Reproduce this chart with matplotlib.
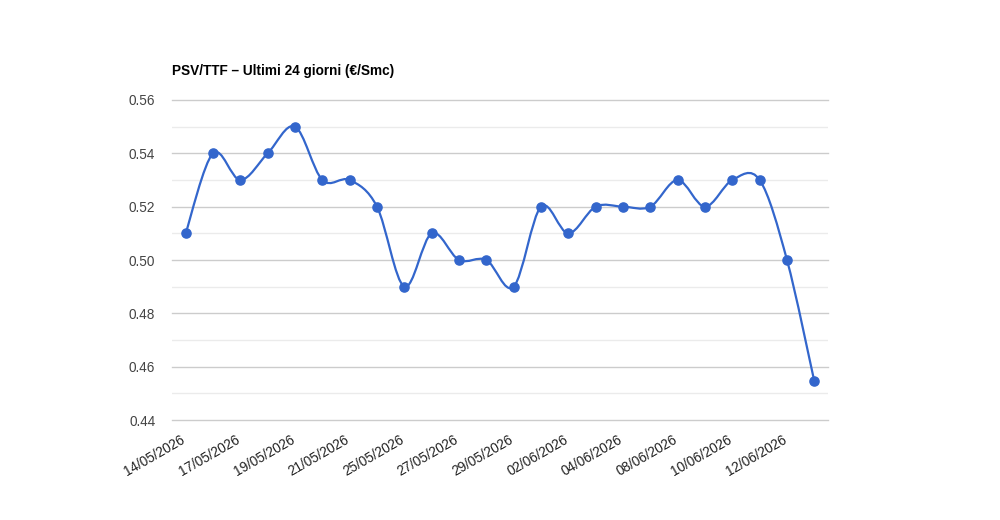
import matplotlib
matplotlib.use("Agg")
import matplotlib.pyplot as plt
from matplotlib.path import Path
from matplotlib.patches import PathPatch
from matplotlib.transforms import ScaledTranslation
import numpy as np

dates = ["14/05/2026", "15/05/2026", "17/05/2026", "18/05/2026", "19/05/2026", "20/05/2026",
         "21/05/2026", "22/05/2026", "25/05/2026", "26/05/2026", "27/05/2026", "28/05/2026",
         "29/05/2026", "01/06/2026", "02/06/2026", "03/06/2026", "04/06/2026", "05/06/2026",
         "08/06/2026", "09/06/2026", "10/06/2026", "11/06/2026", "12/06/2026", "13/06/2026"]
values = [0.51, 0.54, 0.53, 0.54, 0.55, 0.53, 0.53, 0.52, 0.49, 0.51, 0.50, 0.50,
          0.49, 0.52, 0.51, 0.52, 0.52, 0.52, 0.53, 0.52, 0.53, 0.53, 0.50, 0.4545]
title = "PSV/TTF – Ultimi 24 giorni (€/Smc)"
y_major = [0.44, 0.46, 0.48, 0.50, 0.52, 0.54, 0.56]

plt.rcParams['font.family'] = ['Liberation Sans', 'DejaVu Sans']
color = "#3366cc"

fig = plt.figure(figsize=(10, 5.2), dpi=100)
ax = fig.add_axes([0.172, 0.1923, 0.656, 0.6154])

x = np.arange(len(values))
y = np.array(values)

# smooth curve (Catmull-Rom -> cubic Bezier)
verts = [(x[0], y[0])]
codes = [Path.MOVETO]
n = len(x)
for i in range(n - 1):
    p0 = np.array([x[i - 1], y[i - 1]]) if i > 0 else np.array([x[i], y[i]])
    p1 = np.array([x[i], y[i]])
    p2 = np.array([x[i + 1], y[i + 1]])
    p3 = np.array([x[i + 2], y[i + 2]]) if i + 2 < n else p2
    c1 = p1 + (p2 - p0) / 6.0
    c2 = p2 - (p3 - p1) / 6.0
    verts += [tuple(c1), tuple(c2), tuple(p2)]
    codes += [Path.CURVE4] * 3
patch = PathPatch(Path(verts, codes), facecolor='none', edgecolor=color, lw=1.6, zorder=3)
ax.add_patch(patch)
ax.plot(x, y, 'o', color=color, markersize=6.6, zorder=4)

ax.set_xlim(-0.5, n - 0.5)
ax.set_ylim(0.44, 0.56)
ax.set_yticks(y_major)
ax.set_yticklabels([f"{v:.2f}" for v in y_major], fontsize=9.8, color="#444444")
ax.set_yticks(np.arange(0.45, 0.56, 0.02), minor=True)
ax.grid(axis='y', which='major', color='#cccccc', lw=1)
ax.grid(axis='y', which='minor', color='#ebebeb', lw=1)
for gl in ax.get_ygridlines():
    gl.set_clip_on(False)
ax.set_axisbelow(True)
ax.tick_params(axis='y', which='both', length=0, pad=12)
ax.tick_params(axis='x', length=0, pad=9)
ax.set_xticks(x[::2])
ax.set_xticklabels(dates[::2], rotation=30, ha='right', rotation_mode='anchor',
                   fontsize=9.8, color="#222222")
offset = ScaledTranslation(-5 / 100, 0, fig.dpi_scale_trans)
for lbl in ax.get_xticklabels():
    lbl.set_transform(lbl.get_transform() + offset)
for s in ax.spines.values():
    s.set_visible(False)

fig.text(0.172, 1 - 75 / 520, title, fontsize=9.8, fontweight='bold', color='#000000',
         ha='left', va='baseline')

fig.savefig("out.png", dpi=100)
